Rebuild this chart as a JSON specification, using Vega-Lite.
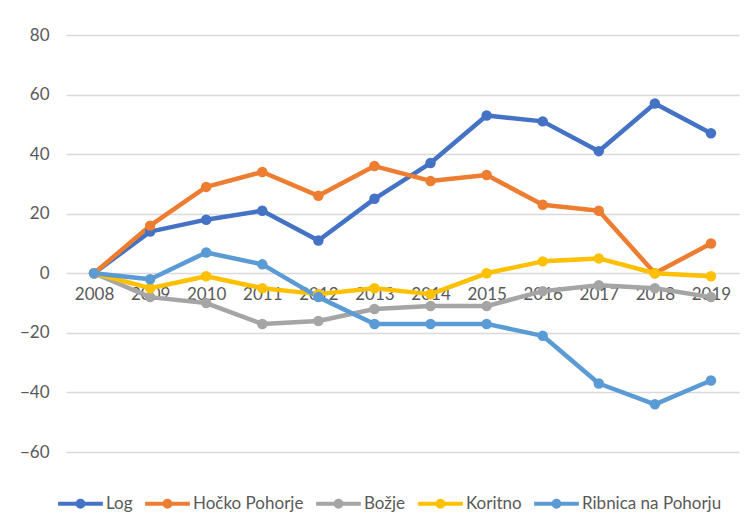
{
  "$schema": "https://vega.github.io/schema/vega-lite/v6.json",
  "width": 673,
  "height": 417,
  "autosize": {"type": "none"},
  "padding": {"left": 66, "top": 35, "right": 14, "bottom": 79},
  "background": "white",
  "data": {"values": [
    {"year": "2008", "place": "Log", "v": 0},
    {"year": "2009", "place": "Log", "v": 14},
    {"year": "2010", "place": "Log", "v": 18},
    {"year": "2011", "place": "Log", "v": 21},
    {"year": "2012", "place": "Log", "v": 11},
    {"year": "2013", "place": "Log", "v": 25},
    {"year": "2014", "place": "Log", "v": 37},
    {"year": "2015", "place": "Log", "v": 53},
    {"year": "2016", "place": "Log", "v": 51},
    {"year": "2017", "place": "Log", "v": 41},
    {"year": "2018", "place": "Log", "v": 57},
    {"year": "2019", "place": "Log", "v": 47},
    {"year": "2008", "place": "Hočko Pohorje", "v": 0},
    {"year": "2009", "place": "Hočko Pohorje", "v": 16},
    {"year": "2010", "place": "Hočko Pohorje", "v": 29},
    {"year": "2011", "place": "Hočko Pohorje", "v": 34},
    {"year": "2012", "place": "Hočko Pohorje", "v": 26},
    {"year": "2013", "place": "Hočko Pohorje", "v": 36},
    {"year": "2014", "place": "Hočko Pohorje", "v": 31},
    {"year": "2015", "place": "Hočko Pohorje", "v": 33},
    {"year": "2016", "place": "Hočko Pohorje", "v": 23},
    {"year": "2017", "place": "Hočko Pohorje", "v": 21},
    {"year": "2018", "place": "Hočko Pohorje", "v": 0},
    {"year": "2019", "place": "Hočko Pohorje", "v": 10},
    {"year": "2008", "place": "Božje", "v": 0},
    {"year": "2009", "place": "Božje", "v": -8},
    {"year": "2010", "place": "Božje", "v": -10},
    {"year": "2011", "place": "Božje", "v": -17},
    {"year": "2012", "place": "Božje", "v": -16},
    {"year": "2013", "place": "Božje", "v": -12},
    {"year": "2014", "place": "Božje", "v": -11},
    {"year": "2015", "place": "Božje", "v": -11},
    {"year": "2016", "place": "Božje", "v": -6},
    {"year": "2017", "place": "Božje", "v": -4},
    {"year": "2018", "place": "Božje", "v": -5},
    {"year": "2019", "place": "Božje", "v": -8},
    {"year": "2008", "place": "Koritno", "v": 0},
    {"year": "2009", "place": "Koritno", "v": -5},
    {"year": "2010", "place": "Koritno", "v": -1},
    {"year": "2011", "place": "Koritno", "v": -5},
    {"year": "2012", "place": "Koritno", "v": -7},
    {"year": "2013", "place": "Koritno", "v": -5},
    {"year": "2014", "place": "Koritno", "v": -7},
    {"year": "2015", "place": "Koritno", "v": 0},
    {"year": "2016", "place": "Koritno", "v": 4},
    {"year": "2017", "place": "Koritno", "v": 5},
    {"year": "2018", "place": "Koritno", "v": 0},
    {"year": "2019", "place": "Koritno", "v": -1},
    {"year": "2008", "place": "Ribnica na Pohorju", "v": 0},
    {"year": "2009", "place": "Ribnica na Pohorju", "v": -2},
    {"year": "2010", "place": "Ribnica na Pohorju", "v": 7},
    {"year": "2011", "place": "Ribnica na Pohorju", "v": 3},
    {"year": "2012", "place": "Ribnica na Pohorju", "v": -8},
    {"year": "2013", "place": "Ribnica na Pohorju", "v": -17},
    {"year": "2014", "place": "Ribnica na Pohorju", "v": -17},
    {"year": "2015", "place": "Ribnica na Pohorju", "v": -17},
    {"year": "2016", "place": "Ribnica na Pohorju", "v": -21},
    {"year": "2017", "place": "Ribnica na Pohorju", "v": -37},
    {"year": "2018", "place": "Ribnica na Pohorju", "v": -44},
    {"year": "2019", "place": "Ribnica na Pohorju", "v": -36}
  ]},
  "encoding": {
    "x": {
      "field": "year", "type": "ordinal",
      "scale": {"type": "point", "padding": 0.5},
      "axis": {"title": null, "domain": false, "ticks": false, "grid": false, "labelAngle": 0,
               "offset": -178, "labelPadding": 12, "labelFontSize": 17, "labelColor": "#595959",
               "labelFont": "Lato"}
    },
    "y": {
      "field": "v", "type": "quantitative",
      "scale": {"domain": [-60, 80], "nice": false, "zero": false},
      "axis": {"title": null, "domain": false, "ticks": false, "values": [-60, -40, -20, 0, 20, 40, 60, 80],
               "gridColor": "#D9D9D9", "gridWidth": 1.3, "labelPadding": 17, "labelFontSize": 17,
               "labelColor": "#595959", "labelFont": "Lato"}
    },
    "color": {
      "field": "place", "type": "nominal",
      "scale": {"domain": ["Log", "Hočko Pohorje", "Božje", "Koritno", "Ribnica na Pohorju"],
                "range": ["#4472C4", "#ED7D31", "#A5A5A5", "#FFC000", "#5B9BD5"]},
      "legend": {"title": null, "orient": "none", "direction": "horizontal", "legendX": -8, "legendY": 446,
                 "symbolType": "M-1,-0.09H1V0.09H-1Z M-0.22,0A0.22,0.22 0 1,1 0.22,0A0.22,0.22 0 1,1 -0.22,0Z",
                 "symbolSize": 2000, "symbolStrokeWidth": 0, "symbolOpacity": 1,
                 "labelFontSize": 17, "labelColor": "#595959", "labelFont": "Lato",
                 "labelOffset": 3, "columnPadding": 12}
    }
  },
  "layer": [
    {"mark": {"type": "line", "strokeWidth": 4.5, "strokeJoin": "round", "strokeCap": "round"}},
    {"mark": {"type": "point", "filled": true, "size": 110, "opacity": 1, "shape": "circle"}}
  ],
  "config": {"view": {"stroke": null}}
}
